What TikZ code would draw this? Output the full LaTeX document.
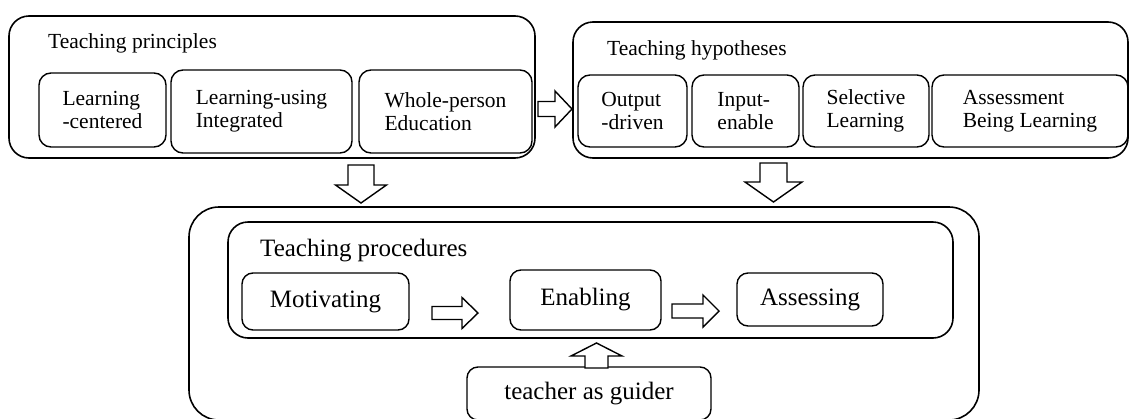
\documentclass[tikz,border=0pt]{standalone}
\usepackage{fontspec}
\setmainfont{Liberation Serif}
\newcommand\blockH[6]{% tail, base, tip, cy, body half, head half
  \draw[barrow] (#1,#4-#5) -- (#2,#4-#5) -- (#2,#4-#6) -- (#3,#4) -- (#2,#4+#6) -- (#2,#4+#5) -- (#1,#4+#5) -- cycle;}
\newcommand\blockV[6]{% tail, base, tip, cx, body half, head half
  \draw[barrow] (#4-#5,#1) -- (#4-#5,#2) -- (#4-#6,#2) -- (#4,#3) -- (#4+#6,#2) -- (#4+#5,#2) -- (#4+#5,#1) -- cycle;}
\begin{document}
\begin{tikzpicture}[x=1pt,y=-1pt,
  frame/.style={draw, line width=1.6pt, inner sep=0pt, rounded corners=#1},
  frame/.default=20pt,
  topbox/.style={draw, line width=1.4pt, inner sep=0pt, rounded corners=12pt, align=left,
    font=\fontsize{21.5}{23}\selectfont},
  lowbox/.style={draw, line width=1.4pt, inner sep=0pt, rounded corners=11pt,
    font=\fontsize{25}{27}\selectfont},
  toptitle/.style={anchor=base west, inner sep=0pt, font=\fontsize{21.5}{23}\selectfont},
  lowtitle/.style={anchor=base west, inner sep=0pt, font=\fontsize{25}{27}\selectfont},
  barrow/.style={draw, line width=1.4pt, fill=white, line join=miter}]
\useasboundingbox (0,0) rectangle (1129,418);
\clip (0,0) rectangle (1129,418);

% outer frames
\node[frame, minimum width=526pt, minimum height=142pt] (L) at (272,87) {};
\node[frame, minimum width=555pt, minimum height=136pt] (R) at (850.5,90) {};
\node[frame=30pt, minimum width=790pt, minimum height=213pt] (B) at (584,313.5) {};
\node[frame, minimum width=725pt, minimum height=116pt] (P) at (590.5,280) {};

% titles
\node[toptitle] (tL) at (48,48) {Teaching principles};
\node[toptitle] (tR) at (607,55) {Teaching hypotheses};
\node[lowtitle] (tP) at (260,256) {Teaching procedures};

% principles
\node[topbox, minimum width=127pt, minimum height=74pt] (p1) at (102.5,110) {Learning\\-centered};
\node[topbox, minimum width=181pt, minimum height=83pt] (p2) at (261.5,111.5) {Learning-using\\Integrated};
\node[topbox, minimum width=173pt, minimum height=83pt] (p3) at (445.5,111.5) {Whole-person\\Education};

% hypotheses
\node[topbox, minimum width=109pt, minimum height=72pt] (h1) at (632.5,111) {Output\\-driven};
\node[topbox, minimum width=107pt, minimum height=72pt] (h2) at (745.5,111) {Input-\\enable};
\node[topbox, minimum width=126pt, minimum height=72pt] (h3) at (866,111) {Selective\\Learning};
\node[topbox, minimum width=196pt, minimum height=72pt] (h4) at (1030,111) {Assessment\\Being Learning};

% procedures
\node[lowbox, minimum width=167pt, minimum height=57pt] (mot) at (325.5,301.5) {\raisebox{-2pt}{Motivating}};
\node[lowbox, minimum width=151pt, minimum height=60pt] (ena) at (585.5,300) {\raisebox{-2pt}{Enabling}};
\node[lowbox, minimum width=146pt, minimum height=53pt] (ass) at (810,299.5) {Assessing};
\node[lowbox, minimum width=244pt, minimum height=53pt] (tea) at (589,393.5) {teacher as guider};

% block arrows
\blockH{538}{555}{572}{109}{7.5}{18}
\blockV{165}{185}{203}{361}{13}{25.5}
\blockV{163}{182}{202}{773.5}{13.5}{28.5}
\blockH{432}{462}{478}{313}{6.5}{15.5}
\blockH{672}{703}{719}{311}{7}{16}
\blockV{368}{356}{343}{596.5}{11.5}{25.5}
\end{tikzpicture}
\end{document}
